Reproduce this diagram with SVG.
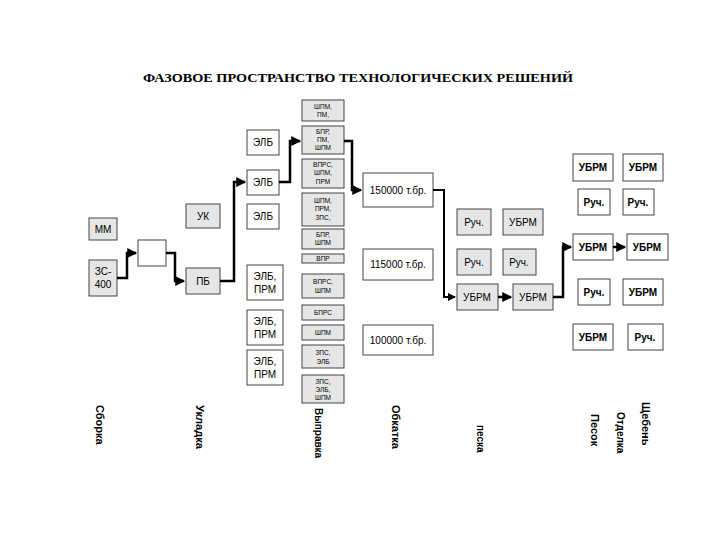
<svg xmlns="http://www.w3.org/2000/svg" width="720" height="540" viewBox="0 0 720 540">
<defs>
<marker id="ah" markerWidth="4" markerHeight="4" refX="3.5" refY="2" orient="auto" markerUnits="strokeWidth"><path d="M0,0 L4,2 L0,4 z" fill="#000"/></marker>
<style>
.g{fill:#e6e6e6;stroke:#444;stroke-width:1}
.w{fill:#fff;stroke:#444;stroke-width:1}
text{font-family:"Liberation Sans",Arial,sans-serif;fill:#000;text-anchor:middle}
.s{font-size:10px}
.t{font-size:6.5px}
.v{font-size:11px;font-weight:bold;text-anchor:start}
.c{fill:none;stroke:#000;stroke-width:2.5;marker-end:url(#ah)}
</style>
</defs>
<rect width="720" height="540" fill="#fff"/>
<text x="358" y="82" style="font-family:'Liberation Serif',serif;font-size:13px;font-weight:bold" textLength="430" lengthAdjust="spacingAndGlyphs">ФАЗОВОЕ ПРОСТРАНСТВО ТЕХНОЛОГИЧЕСКИХ РЕШЕНИЙ</text>

<g id="mm"><rect class="g" x="89" y="218" width="28" height="22"/><text class="s" x="103" y="233">ММ</text></g>
<g id="zs400"><rect class="g" x="89" y="260" width="28" height="36"/><text class="s" x="103" y="275">ЗС-</text><text class="s" x="103" y="288">400</text></g>
<g id="empty"><rect class="w" x="138" y="240" width="28" height="26"/></g>
<g id="uk"><rect class="g" x="186" y="204" width="34" height="24"/><text class="s" x="203" y="220">УК</text></g>
<g id="pb"><rect class="g" x="186" y="268" width="34" height="26"/><text class="s" x="203" y="285">ПБ</text></g>

<g id="elb1"><rect class="w" x="247" y="130" width="32" height="25"/><text class="s" x="263" y="146">ЭЛБ</text></g>
<g id="elb2"><rect class="w" x="247" y="170" width="32" height="25"/><text class="s" x="263" y="186">ЭЛБ</text></g>
<g id="elb3"><rect class="w" x="247" y="204" width="32" height="25"/><text class="s" x="263" y="220">ЭЛБ</text></g>
<g id="elbprm1"><rect class="w" x="247" y="265" width="36" height="35"/><text class="s" x="265" y="280">ЭЛБ,</text><text class="s" x="265" y="293">ПРМ</text></g>
<g id="elbprm2"><rect class="w" x="247" y="310" width="36" height="35"/><text class="s" x="265" y="325">ЭЛБ,</text><text class="s" x="265" y="338">ПРМ</text></g>
<g id="elbprm3"><rect class="w" x="247" y="350" width="36" height="35"/><text class="s" x="265" y="365">ЭЛБ,</text><text class="s" x="265" y="378">ПРМ</text></g>

<g id="v1"><rect class="g" x="302" y="100" width="42" height="21"/><text class="t" x="323" y="109">ШПМ,</text><text class="t" x="323" y="117">ПМ,</text></g>
<g id="v2"><rect class="g" x="302" y="126" width="42" height="28"/><text class="t" x="323" y="134">БПР,</text><text class="t" x="323" y="142">ПМ,</text><text class="t" x="323" y="150">ШПМ</text></g>
<g id="v3"><rect class="g" x="302" y="159" width="42" height="29"/><text class="t" x="323" y="167">ВПРС,</text><text class="t" x="323" y="175">ШПМ,</text><text class="t" x="323" y="184">ПРМ</text></g>
<g id="v4"><rect class="g" x="302" y="193" width="42" height="33"/><text class="t" x="323" y="203">ШПМ,</text><text class="t" x="323" y="211">ПРМ,</text><text class="t" x="323" y="220">ЗПС,</text></g>
<g id="v5"><rect class="g" x="302" y="229" width="42" height="20"/><text class="t" x="323" y="237">БПР,</text><text class="t" x="323" y="245">ШПМ</text></g>
<g id="v6"><rect class="g" x="302" y="254" width="42" height="9"/><text class="t" x="323" y="261">ВПР</text></g>
<g id="v7"><rect class="g" x="302" y="274" width="42" height="24"/><text class="t" x="323" y="284">ВПРС,</text><text class="t" x="323" y="293">ШПМ</text></g>
<g id="v8"><rect class="g" x="302" y="305" width="42" height="15"/><text class="t" x="323" y="315">БПРС</text></g>
<g id="v9"><rect class="g" x="302" y="325" width="42" height="15"/><text class="t" x="323" y="335">ШПМ</text></g>
<g id="v10"><rect class="g" x="302" y="345" width="42" height="23"/><text class="t" x="323" y="355">ЗПС,</text><text class="t" x="323" y="364">ЭЛБ</text></g>
<g id="v11"><rect class="g" x="302" y="375" width="42" height="28"/><text class="t" x="323" y="384">ЗПС,</text><text class="t" x="323" y="392">ЭЛБ,</text><text class="t" x="323" y="400">ШПМ</text></g>

<g id="p150"><rect class="w" x="363" y="173" width="70" height="34"/><text class="s" x="398" y="194">150000 т.бр.</text></g>
<g id="p115"><rect class="w" x="363" y="249" width="70" height="31"/><text class="s" x="398" y="268">115000 т.бр.</text></g>
<g id="p100"><rect class="w" x="363" y="325" width="70" height="30"/><text class="s" x="398" y="344">100000 т.бр.</text></g>

<g id="o1"><rect class="g" x="457" y="209" width="34" height="26"/><text class="s" x="474" y="226">Руч.</text></g>
<g id="o2"><rect class="g" x="503" y="209" width="40" height="26"/><text class="s" x="523" y="226">УБРМ</text></g>
<g id="o3"><rect class="g" x="457" y="249" width="34" height="26"/><text class="s" x="474" y="266">Руч.</text></g>
<g id="o4"><rect class="g" x="503" y="249" width="33" height="26"/><text class="s" x="519" y="266">Руч.</text></g>
<g id="o5"><rect class="g" x="457" y="284" width="41" height="26"/><text class="s" x="477" y="301">УБРМ</text></g>
<g id="o6"><rect class="g" x="513" y="284" width="40" height="26"/><text class="s" x="533" y="301">УБРМ</text></g>

<g id="r1"><rect class="w" x="573" y="154" width="40" height="27"/><text class="s" x="593" y="171" font-weight="bold">УБРМ</text></g>
<g id="r2"><rect class="w" x="623" y="154" width="40" height="27"/><text class="s" x="643" y="171" font-weight="bold">УБРМ</text></g>
<g id="r3"><rect class="w" x="578" y="189" width="32" height="26"/><text class="s" x="594" y="206" font-weight="bold">Руч.</text></g>
<g id="r4"><rect class="w" x="623" y="189" width="31" height="26"/><text class="s" x="638" y="206" font-weight="bold">Руч.</text></g>
<g id="r5"><rect class="w" x="573" y="234" width="40" height="26"/><text class="s" x="593" y="251" font-weight="bold">УБРМ</text></g>
<g id="r6"><rect class="w" x="627" y="234" width="41" height="26"/><text class="s" x="647" y="251" font-weight="bold">УБРМ</text></g>
<g id="r7"><rect class="w" x="578" y="279" width="32" height="26"/><text class="s" x="594" y="296" font-weight="bold">Руч.</text></g>
<g id="r8"><rect class="w" x="623" y="279" width="40" height="26"/><text class="s" x="643" y="296" font-weight="bold">УБРМ</text></g>
<g id="r9"><rect class="w" x="573" y="324" width="40" height="26"/><text class="s" x="593" y="341" font-weight="bold">УБРМ</text></g>
<g id="r10"><rect class="w" x="628" y="324" width="35" height="26"/><text class="s" x="645" y="341" font-weight="bold">Руч.</text></g>

<g id="connectors">
<path class="c" d="M117,278 H127 V253 H136"/>
<path class="c" d="M166,253 H175 V281 H184"/>
<path class="c" d="M220,281 H234 V182 H245"/>
<path class="c" d="M279,182 H290 V141 H300"/>
<path class="c" d="M344,141 H352 V190 H361"/>
<path class="c" d="M433,190 H444 V297 H455" style="stroke-width:2"/>
<path class="c" d="M498,297 H511"/>
<path class="c" d="M553,297 H563 V247 H571"/>
<path class="c" d="M613,247 H625"/>
</g>

<g id="labels">
<text class="v" transform="translate(96,405) rotate(90)">Сборка</text>
<text class="v" transform="translate(196,405) rotate(90)">Укладка</text>
<text class="v" transform="translate(315,408) rotate(90)" style="font-size:10px">Выправка</text>
<text class="v" transform="translate(392,405) rotate(90)">Обкатка</text>
<text class="v" transform="translate(477,425) rotate(90)" style="font-size:10px">песка</text>
<text class="v" transform="translate(591,414) rotate(90)">Песок</text>
<text class="v" transform="translate(617,412) rotate(90)" style="font-size:10px">Отделка</text>
<text class="v" transform="translate(642,402) rotate(90)">Щебень</text>
</g>
</svg>
